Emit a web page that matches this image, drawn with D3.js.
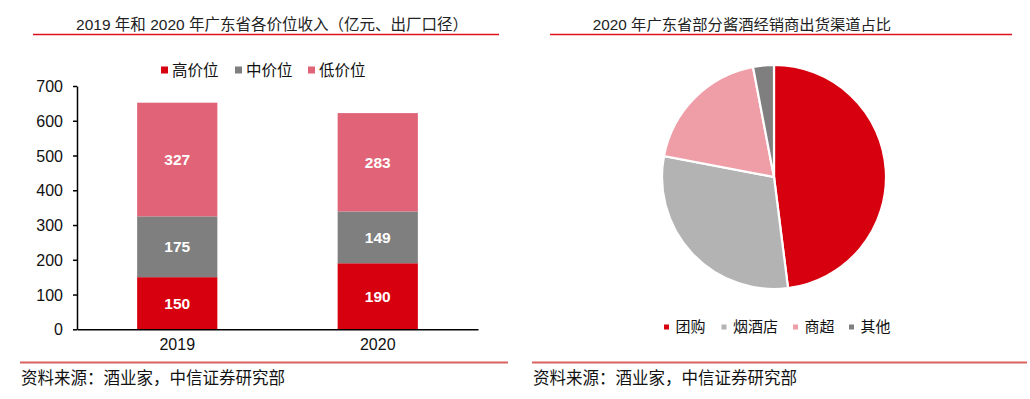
<!DOCTYPE html>
<html><head><meta charset="utf-8">
<script src="https://cdn.jsdelivr.net/npm/d3@7"></script>
<style>
html,body{margin:0;padding:0;background:#fff;}
text{font-family:"Liberation Sans",Arial,"Noto Sans CJK SC",sans-serif;}
</style></head>
<body><svg id="c" width="1030" height="399"></svg>
<script>
// ---- data ----
const years = ["2019", "2020"];
const seriesNames = ["高价位", "中价位", "低价位"];
const highVals = [150, 190];
const midVals = [175, 149];
const lowVals = [327, 283];
const yTicks = [0, 100, 200, 300, 400, 500, 600, 700];
const pieLabels = ["团购", "烟酒店", "商超", "其他"];
const pieVals = [48, 30, 19, 3];
const leftTitle = "2019 年和 2020 年广东省各价位收入（亿元、出厂口径）";
const rightTitle = "2020 年广东省部分酱酒经销商出货渠道占比";
const sourceText = "资料来源：酒业家，中信证券研究部";

const barColors = ["#d7000f", "#7f7f7f", "#e06378"];
const pieColors = ["#d7000f", "#b3b3b3", "#ef9da6", "#7f7f7f"];

const svg = d3.select("#c");
const font = '"Liberation Sans",Arial,"Noto Sans CJK SC",sans-serif';
const cjk = '"Noto Sans CJK SC",sans-serif';

// titles & rules
svg.append("text").attr("x", 272).attr("y", 30).attr("text-anchor", "middle")
  .attr("font-size", 15.5).attr("fill", "#222").text(leftTitle);
svg.append("line").attr("x1", 33).attr("x2", 499).attr("y1", 34.5).attr("y2", 34.5)
  .attr("stroke", "#e0101e").attr("stroke-width", 1.3);
svg.append("text").attr("x", 742).attr("y", 30).attr("text-anchor", "middle")
  .attr("font-size", 15.3).attr("fill", "#222").text(rightTitle);
svg.append("line").attr("x1", 550).attr("x2", 1012).attr("y1", 34.5).attr("y2", 34.5)
  .attr("stroke", "#e0101e").attr("stroke-width", 1.3);

// bottom rules & sources
[[20, 508], [532, 1027]].forEach(([a, b]) => {
  svg.append("line").attr("x1", a).attr("x2", b).attr("y1", 362.5).attr("y2", 362.5)
    .attr("stroke", "#d9625f").attr("stroke-width", 2);
  svg.append("text").attr("x", a + 1).attr("y", 384).attr("font-size", 16.5)
    .attr("font-family", cjk).attr("fill", "#111").text(sourceText);
});

// ---- stacked bar ----
const x = d3.scaleBand().domain(years).range([77, 478]).paddingInner(0.6).paddingOuter(0.3);
const y = d3.scaleLinear().domain([0, 700]).range([329.3, 86]);

const rows = years.map((yr, i) => ({ year: yr, "高价位": highVals[i], "中价位": midVals[i], "低价位": lowVals[i] }));
const stack = d3.stack().keys(seriesNames)(rows);

const g = svg.append("g");
stack.forEach((layer, li) => {
  g.selectAll(null).data(layer).enter().append("rect")
    .attr("x", d => x(d.data.year)).attr("width", x.bandwidth())
    .attr("y", d => y(d[1])).attr("height", d => y(d[0]) - y(d[1]))
    .attr("fill", barColors[li]);
  g.selectAll(null).data(layer).enter().append("text")
    .attr("x", d => x(d.data.year) + x.bandwidth() / 2)
    .attr("y", d => (y(d[0]) + y(d[1])) / 2 + 5.5)
    .attr("text-anchor", "middle").attr("font-size", 15.5).attr("font-weight", "bold")
    .attr("fill", "#fff").text(d => d[1] - d[0]);
});

// y axis
const yAxis = svg.append("g").attr("transform", "translate(77,0)")
  .call(d3.axisLeft(y).tickValues(yTicks).tickSize(4).tickPadding(10).tickSizeOuter(0));
yAxis.select(".domain").attr("stroke", "#000").attr("stroke-width", 1.5);
yAxis.selectAll(".tick line").attr("stroke", "#000").attr("stroke-width", 1.5);
yAxis.selectAll(".tick text").attr("font-size", 16).attr("font-family", font).attr("fill", "#111").attr("dy", "0.35em");

// x axis
const xAxis = svg.append("g").attr("transform", "translate(0,329.3)")
  .call(d3.axisBottom(x).tickSize(0).tickPadding(7).tickSizeOuter(0));
xAxis.select(".domain").attr("stroke", "#000").attr("stroke-width", 1.5);
xAxis.selectAll(".tick text").attr("font-size", 16).attr("font-family", font).attr("fill", "#111").attr("dy", "0.85em");

// bar legend
const legX = [161, 235, 308];
seriesNames.forEach((n, i) => {
  svg.append("rect").attr("x", legX[i]).attr("y", 66.5).attr("width", 7).attr("height", 7).attr("fill", barColors[i]);
  svg.append("text").attr("x", legX[i] + 11).attr("y", 76).attr("font-size", 15.5)
    .attr("font-family", cjk).attr("fill", "#111").text(n);
});

// ---- pie ----
const pie = d3.pie().sort(null).value(d => d)(pieVals);
const arc = d3.arc().innerRadius(0).outerRadius(112);
svg.append("g").attr("transform", "translate(774,177)")
  .selectAll("path").data(pie).enter().append("path")
  .attr("d", arc).attr("fill", (d, i) => pieColors[i])
  .attr("stroke", "#fff").attr("stroke-width", 2.2);

const pLegX = [664, 721.5, 793, 849];
pieLabels.forEach((n, i) => {
  svg.append("rect").attr("x", pLegX[i]).attr("y", 324.5).attr("width", 5).attr("height", 5).attr("fill", pieColors[i]);
  svg.append("text").attr("x", pLegX[i] + 11.5).attr("y", 332).attr("font-size", 15)
    .attr("font-family", cjk).attr("fill", "#111").text(n);
});
</script></body></html>
